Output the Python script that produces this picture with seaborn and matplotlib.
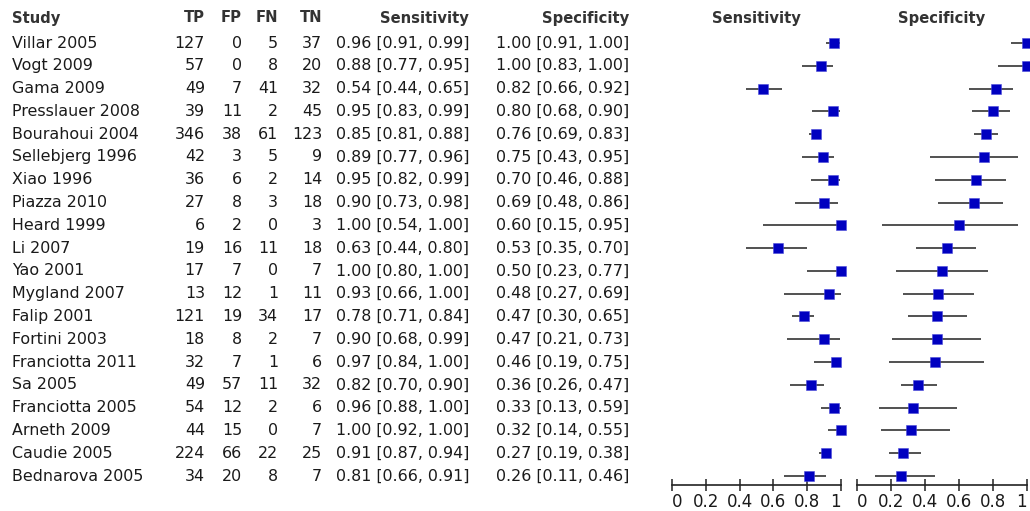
import matplotlib

matplotlib.use("Agg")
import matplotlib.pyplot as plt
import numpy as np
import pandas as pd
import seaborn as sns

# Study data
studies = [
    "Villar 2005", "Vogt 2009", "Gama 2009", "Presslauer 2008", "Bourahoui 2004",
    "Sellebjerg 1996", "Xiao 1996", "Piazza 2010", "Heard 1999", "Li 2007",
    "Yao 2001", "Mygland 2007", "Falip 2001", "Fortini 2003", "Franciotta 2011",
    "Sa 2005", "Franciotta 2005", "Arneth 2009", "Caudie 2005", "Bednarova 2005",
]
tp = [127, 57, 49, 39, 346, 42, 36, 27, 6, 19, 17, 13, 121, 18, 32, 49, 54, 44, 224, 34]
fp = [0, 0, 7, 11, 38, 3, 6, 8, 2, 16, 7, 12, 19, 8, 7, 57, 12, 15, 66, 20]
fn = [5, 8, 41, 2, 61, 5, 2, 3, 0, 11, 0, 1, 34, 2, 1, 11, 2, 0, 22, 8]
tn = [37, 20, 32, 45, 123, 9, 14, 18, 3, 18, 7, 11, 17, 7, 6, 32, 6, 7, 25, 7]

sens = [0.96, 0.88, 0.54, 0.95, 0.85, 0.89, 0.95, 0.90, 1.00, 0.63,
        1.00, 0.93, 0.78, 0.90, 0.97, 0.82, 0.96, 1.00, 0.91, 0.81]
sens_lo = [0.91, 0.77, 0.44, 0.83, 0.81, 0.77, 0.82, 0.73, 0.54, 0.44,
           0.80, 0.66, 0.71, 0.68, 0.84, 0.70, 0.88, 0.92, 0.87, 0.66]
sens_hi = [0.99, 0.95, 0.65, 0.99, 0.88, 0.96, 0.99, 0.98, 1.00, 0.80,
           1.00, 1.00, 0.84, 0.99, 1.00, 0.90, 1.00, 1.00, 0.94, 0.91]
spec = [1.00, 1.00, 0.82, 0.80, 0.76, 0.75, 0.70, 0.69, 0.60, 0.53,
        0.50, 0.48, 0.47, 0.47, 0.46, 0.36, 0.33, 0.32, 0.27, 0.26]
spec_lo = [0.91, 0.83, 0.66, 0.68, 0.69, 0.43, 0.46, 0.48, 0.15, 0.35,
           0.23, 0.27, 0.30, 0.21, 0.19, 0.26, 0.13, 0.14, 0.19, 0.11]
spec_hi = [1.00, 1.00, 0.92, 0.90, 0.83, 0.95, 0.88, 0.86, 0.95, 0.70,
           0.77, 0.69, 0.65, 0.73, 0.75, 0.47, 0.59, 0.55, 0.38, 0.46]

tick_vals = [0, 0.2, 0.4, 0.6, 0.8, 1]
tick_labels = ["0", "0.2", "0.4", "0.6", "0.8", "1"]

df = pd.DataFrame({
    "study": studies, "tp": tp, "fp": fp, "fn": fn, "tn": tn,
    "sens": sens, "sens_lo": sens_lo, "sens_hi": sens_hi,
    "spec": spec, "spec_lo": spec_lo, "spec_hi": spec_hi,
})
df["row"] = np.arange(len(df))

sns.set_style("white")
plt.rcParams["font.family"] = ["DejaVu Sans"]

W, H = 1030, 511
fig = plt.figure(figsize=(W / 100, H / 100), dpi=100)

# shared vertical layout (pixels from the top)
top_px, bot_px = 30, 485
row0_px, step_px = 43, 22.79
ylim = ((bot_px - row0_px) / step_px, (top_px - row0_px) / step_px)
ax_b = (H - bot_px) / H
ax_h = (bot_px - top_px) / H

text_color = "#1a1a1a"
head_color = "#333333"
fs = 11.4
hfs = 10.6

# table part
tab = fig.add_axes([0, ax_b, 1, ax_h])
tab.set_xlim(0, W)
tab.set_ylim(*ylim)
tab.axis("off")

head_y = (18 - row0_px) / step_px
tab.text(12, head_y, "Study", ha="left", va="center", fontsize=hfs,
         fontweight="bold", color=head_color)
cols = [("TP", "tp", 205), ("FP", "fp", 242), ("FN", "fn", 278), ("TN", "tn", 322)]
for name, key, x in cols:
    tab.text(x, head_y, name, ha="right", va="center", fontsize=hfs,
             fontweight="bold", color=head_color)
tab.text(469, head_y, "Sensitivity", ha="right", va="center", fontsize=hfs,
         fontweight="bold", color=head_color)
tab.text(629, head_y, "Specificity", ha="right", va="center", fontsize=hfs,
         fontweight="bold", color=head_color)

for _, r in df.iterrows():
    y = r["row"]
    tab.text(12, y, r["study"], ha="left", va="center", fontsize=fs, color=text_color)
    for name, key, x in cols:
        tab.text(x, y, f"{r[key]}", ha="right", va="center", fontsize=fs, color=text_color)
    tab.text(469, y, f"{r['sens']:.2f} [{r['sens_lo']:.2f}, {r['sens_hi']:.2f}]",
             ha="right", va="center", fontsize=fs, color=text_color)
    tab.text(629, y, f"{r['spec']:.2f} [{r['spec_lo']:.2f}, {r['spec_hi']:.2f}]",
             ha="right", va="center", fontsize=fs, color=text_color)

# forest plots
panels = [
    ("Sensitivity", "sens", 671.7, 169.5),
    ("Specificity", "spec", 856.7, 170.0),
]
for title, key, x0, w in panels:
    ax = fig.add_axes([x0 / W, ax_b, w / W, ax_h])
    ax.hlines(df["row"], df[key + "_lo"], df[key + "_hi"], color="#222222",
              linewidth=1.1, zorder=1)
    sns.scatterplot(data=df, x=key, y="row", marker="s", s=60, color="#0000c0",
                    edgecolor="#4a4ad8", linewidth=0.4, ax=ax, zorder=3,
                    clip_on=False, legend=False)
    ax.set_xlim(0, 1)
    ax.set_ylim(*ylim)
    ax.set_xlabel("")
    ax.set_ylabel("")
    ax.set_yticks([])
    for s in ["top", "left", "right"]:
        ax.spines[s].set_visible(False)
    ax.spines["bottom"].set_color("#222222")
    ax.spines["bottom"].set_linewidth(1.2)
    ax.set_xticks(tick_vals)
    ax.set_xticklabels(tick_labels, fontsize=12, color=text_color)
    labels = ax.get_xticklabels()
    labels[0].set_ha("left")
    labels[-1].set_ha("right")
    ax.tick_params(axis="x", direction="inout", length=9, width=1.1,
                   color="#222222", pad=1, bottom=True)
    ax.text(0.5, head_y, title, ha="center", va="center", fontsize=hfs,
            fontweight="bold", color=head_color)
    ax.set_facecolor("none")

fig.savefig("out.png", dpi=100, facecolor="white")
